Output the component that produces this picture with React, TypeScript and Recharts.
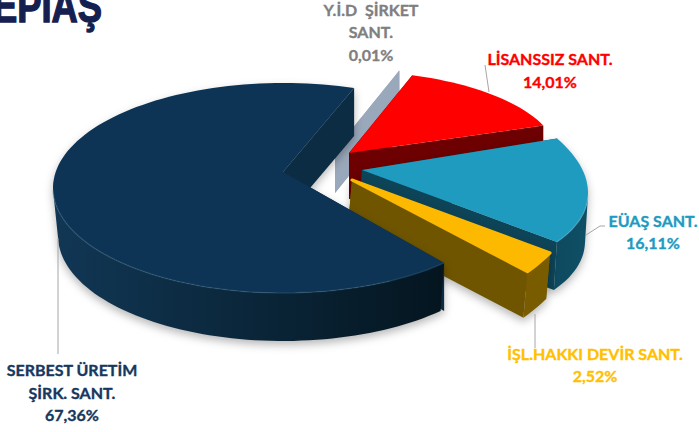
import React from 'react';
import { PieChart, Pie } from 'recharts';

// ── Data ───────────────────────────────────────────────────────────────────────
const NAMES = ['yid', 'lisanssiz', 'euas', 'islhakki', 'serbest'];
const VALUES = [0.01, 14.01, 16.11, 2.52, 67.36];
const LABEL_LINES = [
  ['Y.İ.D  ŞİRKET', 'SANT.'],
  ['LİSANSSIZ SANT.'],
  ['EÜAŞ SANT.'],
  ['İŞL.HAKKI DEVİR SANT.'],
  ['SERBEST ÜRETİM', 'ŞİRK. SANT.'],
];

const pieData = NAMES.map((name, i) => ({ name, value: VALUES[i] }));

// ── Per-slice look: how the flat pie angle is tilted and pulled out in "3D" ────
const LOOK: Record<string, any> = {
  yid: {
    ex: 335, ey: 140, a: 208, b: 0, c: 0, d: 73, apex: [335, 150], depth: 43,
    top: '#9aa8bb', wall: '#9aa8bb', rimWall: '#9aa8bb',
  },
  lisanssiz: {
    ex: 347, ey: 157, a: 211, b: 0, c: 0, d: 86, apex: [349, 153], depth: 46,
    top: '#ff0000', wall: '#6d0000', rimWall: '#6d0000',
  },
  euas: {
    ex: 340, ey: 170, a: 246, b: -32, c: 9, d: 109, apex: [362, 170], depth: 48,
    top: '#1f9bbf', wall: '#0e4458', rimWall: 'url(#rim-euas)', shadow: true,
    rimFrom: '#0e4a60', rimTo: '#0f4f66', glow: '#7cc8dd', dropX: -3,
  },
  islhakki: {
    ex: 374, ey: 159, a: 219, b: 0, c: 0, d: 158, apex: [352, 180], depth: 46,
    top: '#fdb900', wall: '#6f5500', rimWall: '#7a5c00', round: true, shadow: true, dropX: -4,
  },
  serbest: {
    ex: 283, ey: 188, a: 230, b: 0, c: 0, d: 105, apex: [283, 172], depth: 48,
    top: '#0e3455', wall: '#0c2c44', rimWall: 'url(#rim-serbest)', shadow: true,
    rimFrom: '#113755', rimTo: '#04151f', glow: '#3f6f90', inset: 0.978,
  },
};

const LABEL_SPOT: Record<string, any> = {
  yid: { x: 371, ys: [16, 38, 61], color: '#7f7f7f' },
  lisanssiz: { x: 550, ys: [65, 88], color: '#ff0000', line: '485,65 489,92' },
  euas: { x: 653, ys: [227, 249], color: '#1f9bbf', line: '586,235 600,226 605,226' },
  islhakki: { x: 595, ys: [360, 382], color: '#ffc000', line: '535,314 535,348' },
  serbest: { x: 72, ys: [376, 399, 421], color: '#17375e', line: '58,238 58,354' },
};

const rad = (deg: number) => (deg * Math.PI) / 180;

const project = (look: any, deg: number): [number, number] => {
  const u = Math.cos(rad(deg));
  const v = Math.sin(rad(deg));
  return [look.ex + look.a * u + look.b * v, look.ey + look.c * u - look.d * v];
};

const sweep = (start: number, end: number) => {
  const n = Math.max(2, Math.ceil(Math.abs(end - start) / 2));
  const degs: number[] = [];
  for (let i = 0; i <= n; i++) degs.push(start + ((end - start) * i) / n);
  return degs;
};

const toLine = (pts: number[][]) =>
  'M' + pts.map((p) => `${p[0].toFixed(1)},${p[1].toFixed(1)}`).join('L');

const toPath = (pts: number[][]) => toLine(pts) + 'Z';

// ── Slice: angles come from the Pie, the tilt from LOOK ────────────────────────
const Slice3D = (props: any) => {
  const look = LOOK[props.name];
  if (!look) return null;
  const { startAngle, endAngle } = props;
  const degs = sweep(startAngle, endAngle);
  const rim = degs.map((d) => project(look, d));
  const drop = (p: number[]) => [p[0] + (look.dropX || 0), p[1] + look.depth];
  const dropRim = (p: number[]) => {
    const q = drop(p);
    return look.inset ? [look.ex + (q[0] - look.ex) * look.inset, q[1]] : q;
  };
  const apex = look.apex;
  const first = rim[0];
  const last = rim[rim.length - 1];
  const lo = Math.min(...rim.map((p) => p[0]));
  const hi = Math.max(...rim.map((p) => p[0]));

  // only the part of the rim that faces the viewer gets a wall
  const turn = (Math.atan2(look.b, look.a) * 180) / Math.PI;
  const front = degs.filter((d) => Math.sin(rad(d - turn)) <= 0.001).map((d) => project(look, d));

  return (
    <g style={look.shadow ? { filter: 'drop-shadow(0px 4px 4px rgba(0,0,0,0.28))' } : undefined}>
      {look.rimFrom && (
        <defs>
          <linearGradient id={`rim-${props.name}`} gradientUnits="userSpaceOnUse" x1={lo} x2={hi} y1={0} y2={0}>
            <stop offset="0%" stopColor={look.rimFrom} />
            <stop offset="100%" stopColor={look.rimTo} />
          </linearGradient>
        </defs>
      )}
      <path d={toPath([apex, first, drop(first), drop(apex)])} fill={look.wall} />
      <path d={toPath([apex, last, drop(last), drop(apex)])} fill={look.wall} />
      {front.length > 1 && (
        <path d={toPath([...front, ...front.map(dropRim).reverse()])} fill={look.rimWall} />
      )}
      <path
        d={toPath([apex, ...rim])}
        fill={look.top}
        stroke={look.round ? look.top : 'none'}
        strokeWidth={look.round ? 3 : 0}
        strokeLinejoin="round"
      />
      {look.glow && front.length > 1 && (
        <path d={toLine(front)} fill="none" stroke={look.glow} strokeOpacity={0.3} strokeWidth={1.5} />
      )}
    </g>
  );
};

const SliceLabel = (props: any) => {
  const spot = LABEL_SPOT[props.name];
  if (!spot) return null;
  const lines = [...LABEL_LINES[NAMES.indexOf(props.name)], `${props.value.toFixed(2).replace('.', ',')}%`];
  return (
    <g>
      {spot.line && <polyline points={spot.line} fill="none" stroke="#a6a6a6" strokeWidth={1} />}
      {lines.map((text, i) => (
        <text
          key={i}
          x={spot.x}
          y={spot.ys[i]}
          textAnchor="middle"
          fill={spot.color}
          stroke={spot.color}
          strokeWidth={0.35}
          fontFamily="Lato, sans-serif"
          fontWeight={700}
          fontSize={16}
          xmlSpace="preserve"
        >
          {text}
        </text>
      ))}
    </g>
  );
};

export default function App() {
  return (
    <div style={{ position: 'absolute', left: 0, top: 0, width: 699, height: 432, background: '#fff', overflow: 'hidden' }}>
      <PieChart width={699} height={432} margin={{ top: 0, right: 0, bottom: 0, left: 0 }}>
        <Pie
          data={pieData}
          dataKey="value"
          nameKey="name"
          cx={283}
          cy={188}
          outerRadius={105}
          startAngle={72}
          endAngle={-288}
          paddingAngle={0}
          stroke="none"
          shape={Slice3D}
          label={SliceLabel}
          labelLine={false}
          isAnimationActive={false}
        />
      </PieChart>
      <svg width={699} height={432} style={{ position: 'absolute', left: 0, top: 0, pointerEvents: 'none' }}>
        <text
          x={-7}
          y={22}
          fontFamily="'Liberation Sans Narrow', 'Liberation Sans', sans-serif"
          fontWeight={700}
          fontSize={46}
          fill="#14204f"
          stroke="#14204f"
          strokeWidth={1.4}
          textLength={109}
          lengthAdjust="spacingAndGlyphs"
        >
          EPİAŞ
        </text>
      </svg>
    </div>
  );
}
